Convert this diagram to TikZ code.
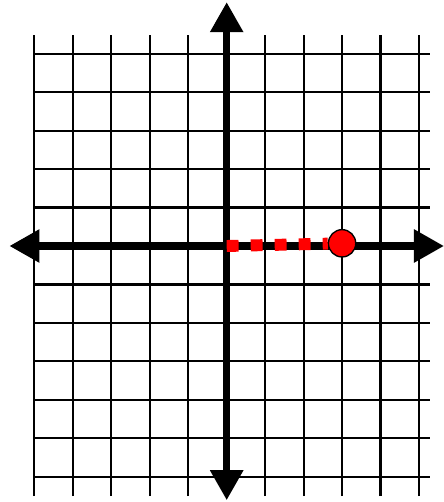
\documentclass[tikz,border=0pt]{standalone}
\usetikzlibrary{arrows.meta}
\tikzset{
  grid style/.style={line width=1.6pt, black},
  axis style/.style={line width=5.2pt,
    {Triangle[length=0.78cm,width=0.82cm]}-{Triangle[length=0.78cm,width=0.82cm]}},
  dot style/.style={circle, draw, fill=red, line width=1pt,
    minimum size=0.71cm, inner sep=0pt},
  dash style/.style={red, line width=0.31cm, dash pattern=on 0.31cm off 0.314cm}
}
\begin{document}
\begin{tikzpicture}
\useasboundingbox (-5.894,-6.656) rectangle (5.650,6.396);

% grid
\foreach \x in {-5,...,5}
  \draw[grid style] (\x,-6.5) -- (\x,5.49);
\foreach \y in {-6,...,5}
  \draw[grid style] (-5,\y) -- (5.29,\y);

% axes
\coordinate (left) at (-5.65,0);
\coordinate (right) at (5.65,0);
\coordinate (bottom) at (0,-6.61);
\coordinate (top) at (0,6.34);
\draw[axis style] (left) -- (right);
\draw[axis style] (bottom) -- (top);

% point on the x axis
\coordinate (o) at (0,0);
\node[dot style] (pt) at (3,0.07) {};
\draw[dash style] (o) -- (pt);

\end{tikzpicture}
\end{document}
